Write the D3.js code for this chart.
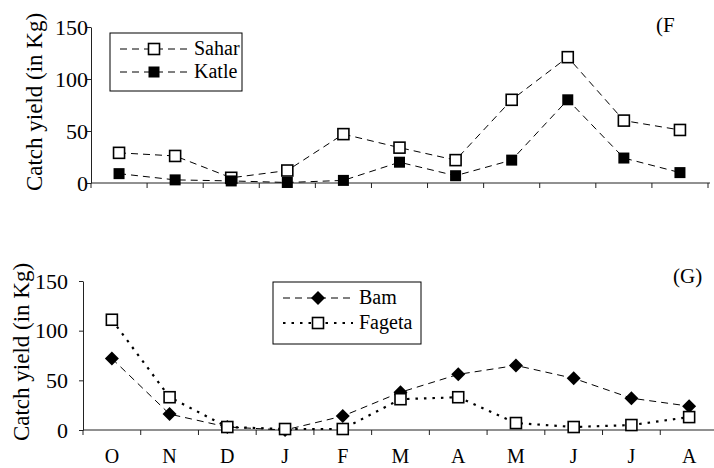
<!DOCTYPE html>
<html><head><meta charset="utf-8">
<script src="https://cdn.jsdelivr.net/npm/d3@7"></script>
<style>body{margin:0;background:#fff}svg{display:block}</style>
</head><body><svg id="c" width="714" height="468"></svg>
<script>
const months = ["O","N","D","J","F","M","A","M","J","J","A"];
const yTicks = [0,50,100,150];
const sahar = [29,26,5,12,47,34,22,80,121,60,51];
const katle = [9,3,2,0.5,2.5,20,7,22,80,24,10];
const bam = [72,16,3,0,14,38,56,65,52,32,24];
const fageta = [111,33,3,1,1,31,33,7,3,5,13];

const FF = "'Liberation Serif', 'Times New Roman', Times, 'DejaVu Serif', serif";
const svg = d3.select("#c");
const idx = months.map((m,i)=>i);

function panel(o){
  const x = d3.scaleBand().domain(idx).range(o.xr).paddingInner(0).paddingOuter(0);
  const y = d3.scaleLinear().domain([0,150]).range(o.yr);
  const g = svg.append("g");
  const xa = g.append("g").attr("transform",`translate(0,${o.yr[0]})`)
    .call(d3.axisBottom(x).tickSize(0).tickFormat(i=>o.labels?months[i]:""));
  xa.select(".domain").remove();
  xa.selectAll("text").style("font-size","20px").attr("dy","1.5em").style("font-family",FF).attr("fill","#000");
  g.append("line").attr("x1",o.xr[0]).attr("x2",o.xend).attr("y1",o.yr[0]).attr("y2",o.yr[0]).attr("stroke","#222");
  const tk = idx.map(i=>x(i)).concat([o.xr[1]]);
  g.selectAll(".xt").data(tk).join("line").attr("x1",d=>d).attr("x2",d=>d).attr("y1",o.yr[0]).attr("y2",o.yr[0]+5).attr("stroke","#222");
  const ya = g.append("g").attr("transform",`translate(${o.xr[0]},0)`)
    .call(d3.axisLeft(y).tickValues(yTicks).tickSize(4).tickPadding(o.pad).tickSizeOuter(0));
  ya.select(".domain").attr("stroke","#222");
  ya.selectAll("line").attr("stroke","#222");
  ya.selectAll("text").style("font-size","22px").style("font-family",FF).attr("fill","#000");
  g.append("text").attr("transform",`translate(${o.tx},${o.ty}) rotate(-90)`).attr("text-anchor","middle")
    .style("font-size","23px").style("font-family",FF).text("Catch yield (in Kg)");
  g.append("text").attr("x",o.lx).attr("y",o.ly).style("font-size","21px").style("font-family",FF).text(o.label);
  const cx = i=>x(i)+x.bandwidth()/2;
  o.series.forEach(s=>{
    const line = d3.line().x((d,i)=>cx(i)).y(d=>y(d));
    g.append("path").datum(s.v).attr("d",line).attr("fill","none").attr("stroke","#000")
      .attr("stroke-width",s.dotted?2.2:1).attr("stroke-dasharray",s.dotted?"2.5,6":"7,5");
    s.v.forEach((d,i)=>marker(g,s.m,cx(i),y(d)));
  });
  const L = o.leg;
  g.append("rect").attr("x",L.x).attr("y",L.y).attr("width",L.w).attr("height",L.h).attr("fill","#fff").attr("stroke","#000").attr("stroke-width",1);
  o.series.forEach((s,k)=>{
    const yy = L.y + L.r0 + k*L.dy;
    g.append("line").attr("x1",L.x+10).attr("x2",L.x+L.lw).attr("y1",yy).attr("y2",yy).attr("stroke","#000")
      .attr("stroke-width",s.dotted?2.2:1).attr("stroke-dasharray",s.dotted?"2.5,6":"7,5");
    marker(g,s.m,L.x+10+(L.lw-10)/2,yy);
    g.append("text").attr("x",L.x+L.lw+6).attr("y",yy+6).style("font-size","20px").style("font-family",FF).text(s.name);
  });
}
function marker(g,m,x,y){
  if(m==="open") g.append("rect").attr("x",x-5.5).attr("y",y-5.5).attr("width",11).attr("height",11).attr("fill","#fff").attr("stroke","#000").attr("stroke-width",1.6);
  else if(m==="fill") g.append("rect").attr("x",x-5.5).attr("y",y-5.5).attr("width",11).attr("height",11).attr("fill","#000");
  else g.append("path").attr("d",`M${x},${y-7}L${x+7},${y}L${x},${y+7}L${x-7},${y}Z`).attr("fill","#000");
}
panel({xr:[91,708],xend:710,yr:[183,27],pad:-1,labels:false,tx:42,ty:102,lx:656,ly:32,label:"(F",
  series:[{name:"Sahar",v:sahar,m:"open"},{name:"Katle",v:katle,m:"fill"}],
  leg:{x:110,y:33,w:132,h:58,r0:16,dy:23,lw:78}});
panel({xr:[83,718],xend:714,yr:[430,281],pad:11,labels:true,tx:29,ty:352,lx:673,ly:283,label:"(G)",
  series:[{name:"Bam",v:bam,m:"dia"},{name:"Fageta",v:fageta,m:"open",dotted:true}],
  leg:{x:273,y:282,w:148,h:62,r0:16,dy:25,lw:80}});
</script></body></html>
